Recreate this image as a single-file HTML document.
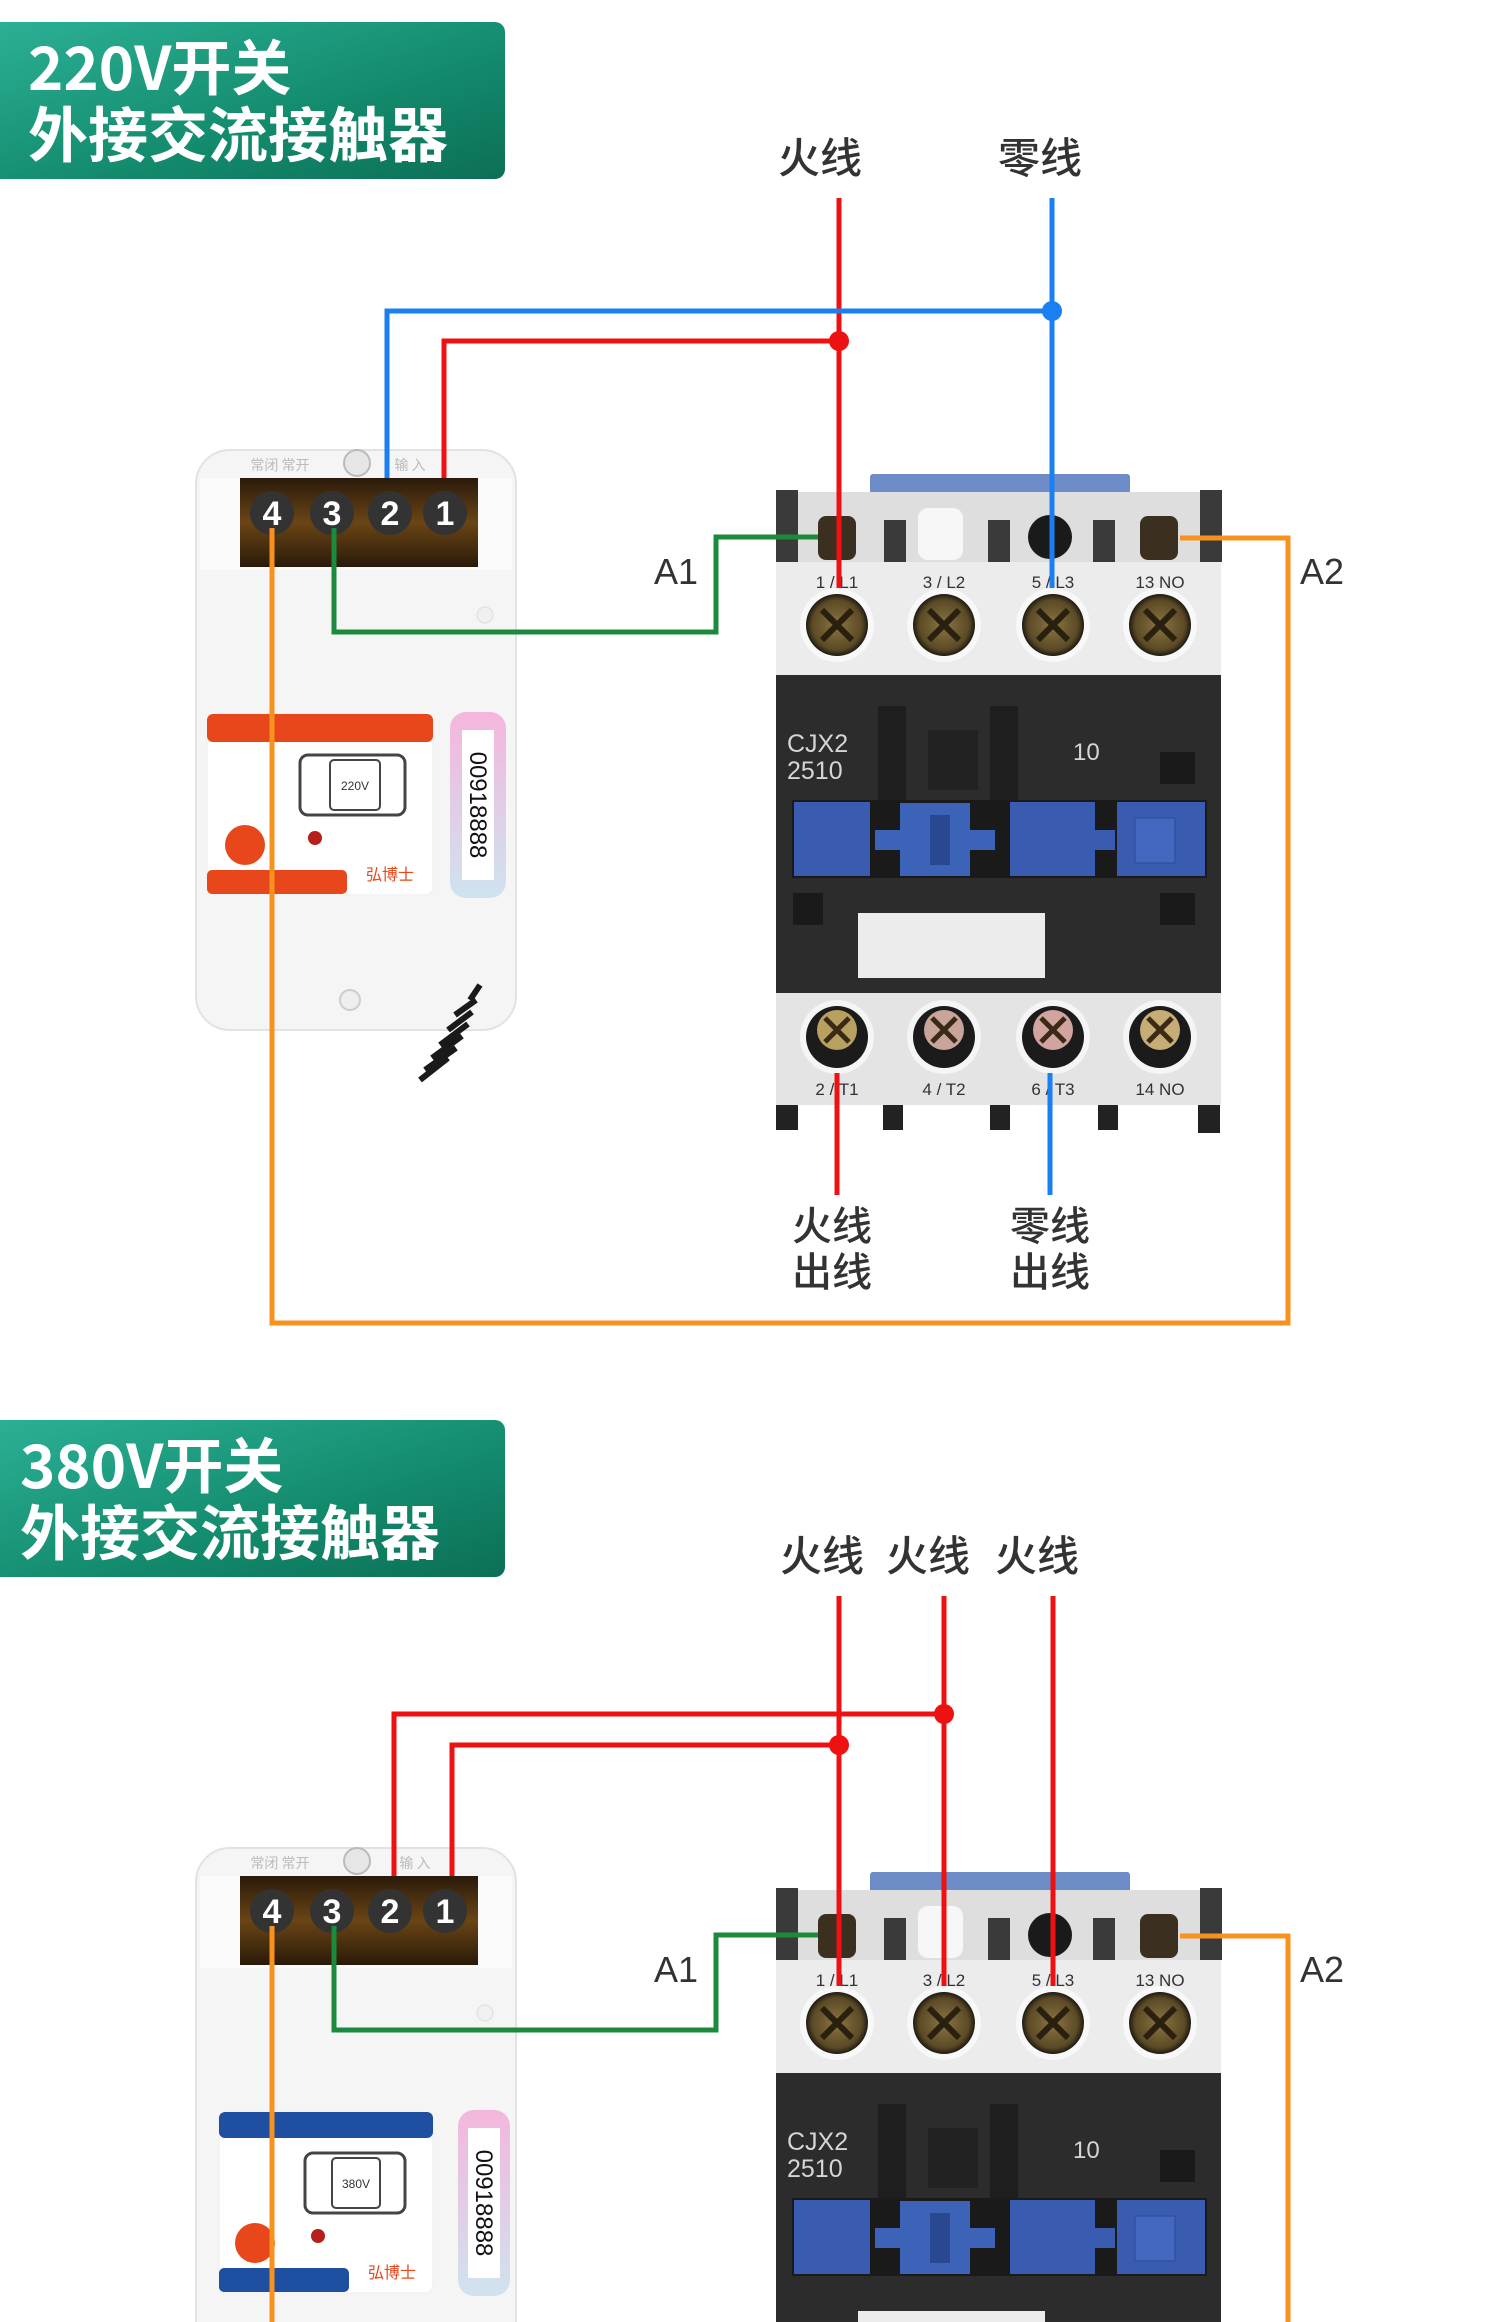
<!DOCTYPE html>
<html><head><meta charset="utf-8"><style>
html,body{margin:0;padding:0;background:#fff;}
svg{display:block;}
text{font-family:"Liberation Sans","Noto Sans CJK SC",sans-serif;}
.cj{font-family:"Noto Sans CJK SC","WenQuanYi Zen Hei",sans-serif;}
.bn{font-weight:bold;}
.lb{font-weight:500;}
</style></head><body>
<svg width="1500" height="2322" viewBox="0 0 1500 2322" xmlns="http://www.w3.org/2000/svg">
<defs>
<linearGradient id="bn" x1="0" y1="0" x2="1" y2="1">
<stop offset="0" stop-color="#2bb095"/><stop offset="0.6" stop-color="#138a6c"/><stop offset="1" stop-color="#0c6f56"/></linearGradient>
<radialGradient id="sc" cx="0.5" cy="0.5" r="0.5"><stop offset="0" stop-color="#8a7440"/><stop offset="0.8" stop-color="#5b4a26"/><stop offset="1" stop-color="#1e1a12"/></radialGradient>
<linearGradient id="tb" x1="0" y1="0" x2="0" y2="1"><stop offset="0" stop-color="#2a1a0a"/><stop offset="0.5" stop-color="#6a4515"/><stop offset="1" stop-color="#2a1a0a"/></linearGradient>
<linearGradient id="pk" x1="0" y1="0" x2="0" y2="1"><stop offset="0" stop-color="#f4b6dc"/><stop offset="1" stop-color="#cfe3ef"/></linearGradient>
</defs>

<!-- ============ SECTION 1 ============ -->
<g>
<path d="M0 22 H495 a10 10 0 0 1 10 10 V169 a10 10 0 0 1 -10 10 H0 Z" fill="url(#bn)"/>
<text class="cj bn" x="28" y="90" font-size="60" fill="#fff">220V开关</text>
<text class="cj bn" x="28" y="157" font-size="60" fill="#fff">外接交流接触器</text>

<text class="cj lb" x="820" y="173" font-size="42" fill="#333" text-anchor="middle">火线</text>
<text class="cj lb" x="1040" y="173" font-size="42" fill="#333" text-anchor="middle">零线</text>

<rect x="196" y="450" width="320" height="580" rx="34" fill="#f5f5f6" stroke="#e2e2e4" stroke-width="2"/>
<rect x="200" y="478" width="312" height="92" fill="#fafafa"/>
<circle cx="357" cy="463" r="13" fill="#e6e6e6" stroke="#bbb" stroke-width="2"/>
<text class="cj" x="280" y="470" font-size="14" fill="#bbb" text-anchor="middle">常闭 常开</text>
<text class="cj" x="410" y="470" font-size="14" fill="#bbb" text-anchor="middle">输 入</text>
<rect x="240" y="478" width="238" height="89" fill="url(#tb)"/>
<g fill="#333"><circle cx="272" cy="513" r="22"/><circle cx="332" cy="513" r="22"/><circle cx="390" cy="513" r="22"/><circle cx="445" cy="513" r="22"/></g>
<g font-size="34" font-weight="bold" fill="#fff" text-anchor="middle"><text x="272" y="525">4</text><text x="332" y="525">3</text><text x="390" y="525">2</text><text x="445" y="525">1</text></g>
<circle cx="485" cy="615" r="8" fill="#f0f0f0" stroke="#ddd"/>
<rect x="207" y="714" width="226" height="181" rx="8" fill="#fff" stroke="#eee"/>
<rect x="207" y="714" width="226" height="28" rx="6" fill="#e8471c"/>
<rect x="207" y="870" width="140" height="24" rx="5" fill="#e8471c"/>
<rect x="300" y="755" width="105" height="60" rx="8" fill="none" stroke="#444" stroke-width="3"/>
<rect x="330" y="760" width="50" height="50" rx="4" fill="none" stroke="#444" stroke-width="2"/>
<text x="355" y="790" font-size="12" fill="#333" text-anchor="middle">220V</text>
<circle cx="245" cy="845" r="20" fill="#e8471c"/>
<circle cx="315" cy="838" r="7" fill="#b5201a"/>
<text class="cj" x="390" y="880" font-size="16" fill="#e8471c" text-anchor="middle">弘博士</text>
<rect x="450" y="712" width="56" height="186" rx="16" fill="url(#pk)"/>
<rect x="462" y="730" width="32" height="150" fill="#fff"/>
<text x="478" y="805" font-size="24" fill="#111" text-anchor="middle" transform="rotate(90 478 805)" dy="8">00918888</text>
<circle cx="350" cy="1000" r="10" fill="#eee" stroke="#ccc" stroke-width="2"/>
<g stroke="#1a1a1a" stroke-width="6" fill="none">
<path d="M480 985 L470 1000 M476 1000 L455 1015 M472 1012 L448 1030 M468 1024 L440 1045 M462 1036 L432 1058 M456 1048 L425 1070 M448 1058 L420 1080"/>
</g>

<rect x="870" y="474" width="260" height="24" rx="3" fill="#6d8cc8"/>
<rect x="776" y="492" width="445" height="185" fill="#ececec"/>
<rect x="776" y="492" width="445" height="70" fill="#dedede"/>
<rect x="776" y="490" width="22" height="72" fill="#3a3a3a"/>
<rect x="1200" y="490" width="22" height="72" fill="#3a3a3a"/>
<rect x="818" y="516" width="38" height="44" rx="8" fill="#3b3020"/>
<rect x="884" y="520" width="22" height="42" fill="#3a3a3a"/>
<rect x="918" y="508" width="45" height="52" rx="10" fill="#f7f7f7"/>
<rect x="988" y="520" width="22" height="42" fill="#3a3a3a"/>
<circle cx="1050" cy="537" r="22" fill="#1a1a1a"/>
<rect x="1093" y="520" width="22" height="42" fill="#3a3a3a"/>
<rect x="1140" y="516" width="38" height="44" rx="8" fill="#3b3020"/>
<g font-size="17" fill="#333" text-anchor="middle"><text x="837" y="588">1 / L1</text><text x="944" y="588">3 / L2</text><text x="1053" y="588">5 / L3</text><text x="1160" y="588">13 NO</text></g>
<g><circle cx="837" cy="625" r="37" fill="#f8f8f8"/><circle cx="944" cy="625" r="37" fill="#f8f8f8"/><circle cx="1053" cy="625" r="37" fill="#f8f8f8"/><circle cx="1160" cy="625" r="37" fill="#f8f8f8"/>
<circle cx="837" cy="625" r="31" fill="url(#sc)"/><circle cx="944" cy="625" r="31" fill="url(#sc)"/><circle cx="1053" cy="625" r="31" fill="url(#sc)"/><circle cx="1160" cy="625" r="31" fill="url(#sc)"/></g>
<g stroke="#2a2010" stroke-width="6"><path d="M822 610 L852 640 M852 610 L822 640 M929 610 L959 640 M959 610 L929 640 M1038 610 L1068 640 M1068 610 L1038 640 M1145 610 L1175 640 M1175 610 L1145 640"/></g>
<rect x="776" y="675" width="445" height="318" fill="#2c2c2c"/>
<rect x="878" y="706" width="28" height="94" fill="#1e1e1e"/>
<rect x="990" y="706" width="28" height="94" fill="#1e1e1e"/>
<rect x="928" y="730" width="50" height="60" fill="#222"/>
<text x="787" y="752" font-size="25" fill="#d5d5d5">CJX2</text>
<text x="787" y="779" font-size="25" fill="#d5d5d5">2510</text>
<text x="1073" y="760" font-size="24" fill="#d5d5d5">10</text>
<rect x="1160" y="752" width="35" height="32" fill="#1a1a1a"/>
<rect x="792" y="800" width="415" height="78" fill="#1a1a1a"/>
<rect x="794" y="802" width="76" height="74" fill="#3a5cb0"/>
<rect x="900" y="803" width="70" height="73" fill="#3d63b8"/>
<rect x="875" y="830" width="120" height="20" fill="#3d63b8"/>
<rect x="930" y="815" width="20" height="50" fill="#2a4890"/>
<rect x="1010" y="802" width="85" height="74" fill="#3a5cb0"/>
<rect x="1095" y="830" width="20" height="20" fill="#3a5cb0"/>
<rect x="1117" y="802" width="88" height="74" fill="#3a5cb0"/>
<rect x="1135" y="818" width="40" height="45" fill="#4468bf" stroke="#2c4a96"/>
<rect x="793" y="893" width="30" height="32" fill="#1a1a1a"/>
<rect x="1160" y="893" width="35" height="32" fill="#1a1a1a"/>
<rect x="858" y="913" width="187" height="65" fill="#ececec"/>
<rect x="776" y="993" width="445" height="112" fill="#e4e4e4"/>
<g><circle cx="837" cy="1037" r="37" fill="#f5f5f5"/><circle cx="944" cy="1037" r="37" fill="#f5f5f5"/><circle cx="1053" cy="1037" r="37" fill="#f5f5f5"/><circle cx="1160" cy="1037" r="37" fill="#f5f5f5"/>
<circle cx="837" cy="1037" r="31" fill="#1b1b1b"/><circle cx="944" cy="1037" r="31" fill="#1b1b1b"/><circle cx="1053" cy="1037" r="31" fill="#1b1b1b"/><circle cx="1160" cy="1037" r="31" fill="#1b1b1b"/>
<circle cx="837" cy="1030" r="20" fill="#b8a060"/><circle cx="944" cy="1030" r="20" fill="#c9a49a"/><circle cx="1053" cy="1030" r="20" fill="#d2a4a0"/><circle cx="1160" cy="1030" r="20" fill="#c6ad75"/></g>
<g stroke="#3a2a15" stroke-width="5"><path d="M825 1018 L849 1042 M849 1018 L825 1042 M932 1018 L956 1042 M956 1018 L932 1042 M1041 1018 L1065 1042 M1065 1018 L1041 1042 M1148 1018 L1172 1042 M1172 1018 L1148 1042"/></g>
<g font-size="17" fill="#333" text-anchor="middle"><text x="837" y="1095">2 / T1</text><text x="944" y="1095">4 / T2</text><text x="1053" y="1095">6 / T3</text><text x="1160" y="1095">14 NO</text></g>
<g fill="#222"><rect x="776" y="1105" width="22" height="25"/><rect x="883" y="1105" width="20" height="25"/><rect x="990" y="1105" width="20" height="25"/><rect x="1098" y="1105" width="20" height="25"/><rect x="1198" y="1105" width="22" height="28"/></g>

<g fill="none" stroke-width="5" stroke-linejoin="miter">
<path d="M839 198 V588" stroke="#ee1111"/>
<path d="M1052 198 V588" stroke="#1a7ff0"/>
<path d="M387 478 V311 H1052" stroke="#1a7ff0"/>
<path d="M444 478 V341 H839" stroke="#ee1111"/>
<path d="M334 528 V632 H716 V537 H818" stroke="#1b8a3c"/>
<path d="M272 528 V1323 H1288 V538 H1180" stroke="#f7921e"/>
<path d="M837 1073 V1195" stroke="#ee1111"/>
<path d="M1050 1073 V1195" stroke="#1a7ff0"/>
</g>
<circle cx="1052" cy="311" r="10" fill="#1a7ff0"/>
<circle cx="839" cy="341" r="10" fill="#ee1111"/>
<text x="676" y="584" font-size="36" fill="#333" text-anchor="middle">A1</text>
<text x="1322" y="584" font-size="36" fill="#333" text-anchor="middle">A2</text>
<text class="cj lb" x="832" y="1240" font-size="40" fill="#333" text-anchor="middle">火线</text>
<text class="cj lb" x="832" y="1286" font-size="40" fill="#333" text-anchor="middle">出线</text>
<text class="cj lb" x="1050" y="1240" font-size="40" fill="#333" text-anchor="middle">零线</text>
<text class="cj lb" x="1050" y="1286" font-size="40" fill="#333" text-anchor="middle">出线</text>
</g>

<!-- ============ SECTION 2 ============ -->
<g transform="translate(0,1398)">
<path d="M0 22 H495 a10 10 0 0 1 10 10 V169 a10 10 0 0 1 -10 10 H0 Z" fill="url(#bn)"/>
<text class="cj bn" x="20" y="90" font-size="60" fill="#fff">380V开关</text>
<text class="cj bn" x="20" y="157" font-size="60" fill="#fff">外接交流接触器</text>

<text class="cj lb" x="822" y="173" font-size="42" fill="#333" text-anchor="middle">火线</text>
<text class="cj lb" x="928" y="173" font-size="42" fill="#333" text-anchor="middle">火线</text>
<text class="cj lb" x="1037" y="173" font-size="42" fill="#333" text-anchor="middle">火线</text>

<rect x="196" y="450" width="320" height="580" rx="34" fill="#f5f5f6" stroke="#e2e2e4" stroke-width="2"/>
<rect x="200" y="478" width="312" height="92" fill="#fafafa"/>
<circle cx="357" cy="463" r="13" fill="#e6e6e6" stroke="#bbb" stroke-width="2"/>
<text class="cj" x="280" y="470" font-size="14" fill="#bbb" text-anchor="middle">常闭 常开</text>
<text class="cj" x="415" y="470" font-size="14" fill="#bbb" text-anchor="middle">输 入</text>
<rect x="240" y="478" width="238" height="89" fill="url(#tb)"/>
<g fill="#333"><circle cx="272" cy="513" r="22"/><circle cx="332" cy="513" r="22"/><circle cx="390" cy="513" r="22"/><circle cx="445" cy="513" r="22"/></g>
<g font-size="34" font-weight="bold" fill="#fff" text-anchor="middle"><text x="272" y="525">4</text><text x="332" y="525">3</text><text x="390" y="525">2</text><text x="445" y="525">1</text></g>
<circle cx="485" cy="615" r="8" fill="#f0f0f0" stroke="#ddd"/>
<rect x="219" y="714" width="214" height="181" rx="8" fill="#fff" stroke="#eee"/>
<rect x="219" y="714" width="214" height="26" rx="6" fill="#1f4fa0"/>
<rect x="219" y="870" width="130" height="24" rx="5" fill="#1f4fa0"/>
<rect x="305" y="755" width="100" height="60" rx="8" fill="none" stroke="#444" stroke-width="3"/>
<rect x="332" y="760" width="48" height="50" rx="4" fill="none" stroke="#444" stroke-width="2"/>
<text x="356" y="790" font-size="12" fill="#333" text-anchor="middle">380V</text>
<circle cx="255" cy="845" r="20" fill="#e8471c"/>
<circle cx="318" cy="838" r="7" fill="#b5201a"/>
<text class="cj" x="392" y="880" font-size="16" fill="#e8471c" text-anchor="middle">弘博士</text>
<rect x="458" y="712" width="52" height="186" rx="16" fill="url(#pk)"/>
<rect x="468" y="730" width="32" height="150" fill="#fff"/>
<text x="484" y="805" font-size="24" fill="#111" text-anchor="middle" transform="rotate(90 484 805)" dy="8">00918888</text>

<rect x="870" y="474" width="260" height="24" rx="3" fill="#6d8cc8"/>
<rect x="776" y="492" width="445" height="185" fill="#ececec"/>
<rect x="776" y="492" width="445" height="70" fill="#dedede"/>
<rect x="776" y="490" width="22" height="72" fill="#3a3a3a"/>
<rect x="1200" y="490" width="22" height="72" fill="#3a3a3a"/>
<rect x="818" y="516" width="38" height="44" rx="8" fill="#3b3020"/>
<rect x="884" y="520" width="22" height="42" fill="#3a3a3a"/>
<rect x="918" y="508" width="45" height="52" rx="10" fill="#f7f7f7"/>
<rect x="988" y="520" width="22" height="42" fill="#3a3a3a"/>
<circle cx="1050" cy="537" r="22" fill="#1a1a1a"/>
<rect x="1093" y="520" width="22" height="42" fill="#3a3a3a"/>
<rect x="1140" y="516" width="38" height="44" rx="8" fill="#3b3020"/>
<g font-size="17" fill="#333" text-anchor="middle"><text x="837" y="588">1 / L1</text><text x="944" y="588">3 / L2</text><text x="1053" y="588">5 / L3</text><text x="1160" y="588">13 NO</text></g>
<g><circle cx="837" cy="625" r="37" fill="#f8f8f8"/><circle cx="944" cy="625" r="37" fill="#f8f8f8"/><circle cx="1053" cy="625" r="37" fill="#f8f8f8"/><circle cx="1160" cy="625" r="37" fill="#f8f8f8"/>
<circle cx="837" cy="625" r="31" fill="url(#sc)"/><circle cx="944" cy="625" r="31" fill="url(#sc)"/><circle cx="1053" cy="625" r="31" fill="url(#sc)"/><circle cx="1160" cy="625" r="31" fill="url(#sc)"/></g>
<g stroke="#2a2010" stroke-width="6"><path d="M822 610 L852 640 M852 610 L822 640 M929 610 L959 640 M959 610 L929 640 M1038 610 L1068 640 M1068 610 L1038 640 M1145 610 L1175 640 M1175 610 L1145 640"/></g>
<rect x="776" y="675" width="445" height="260" fill="#2c2c2c"/>
<rect x="878" y="706" width="28" height="94" fill="#1e1e1e"/>
<rect x="990" y="706" width="28" height="94" fill="#1e1e1e"/>
<rect x="928" y="730" width="50" height="60" fill="#222"/>
<text x="787" y="752" font-size="25" fill="#d5d5d5">CJX2</text>
<text x="787" y="779" font-size="25" fill="#d5d5d5">2510</text>
<text x="1073" y="760" font-size="24" fill="#d5d5d5">10</text>
<rect x="1160" y="752" width="35" height="32" fill="#1a1a1a"/>
<rect x="792" y="800" width="415" height="78" fill="#1a1a1a"/>
<rect x="794" y="802" width="76" height="74" fill="#3a5cb0"/>
<rect x="900" y="803" width="70" height="73" fill="#3d63b8"/>
<rect x="875" y="830" width="120" height="20" fill="#3d63b8"/>
<rect x="930" y="815" width="20" height="50" fill="#2a4890"/>
<rect x="1010" y="802" width="85" height="74" fill="#3a5cb0"/>
<rect x="1095" y="830" width="20" height="20" fill="#3a5cb0"/>
<rect x="1117" y="802" width="88" height="74" fill="#3a5cb0"/>
<rect x="1135" y="818" width="40" height="45" fill="#4468bf" stroke="#2c4a96"/>
<rect x="858" y="913" width="187" height="22" fill="#ececec"/>

<g fill="none" stroke-width="5">
<path d="M839 198 V588" stroke="#ee1111"/>
<path d="M944 198 V588" stroke="#ee1111"/>
<path d="M1053 198 V588" stroke="#ee1111"/>
<path d="M394 478 V316 H944" stroke="#ee1111"/>
<path d="M452 478 V347 H839" stroke="#ee1111"/>
<path d="M334 528 V632 H716 V537 H818" stroke="#1b8a3c"/>
<path d="M272 528 V930" stroke="#f7921e"/>
<path d="M1288 930 V538 H1180" stroke="#f7921e"/>
</g>
<circle cx="944" cy="316" r="10" fill="#ee1111"/>
<circle cx="839" cy="347" r="10" fill="#ee1111"/>
<text x="676" y="584" font-size="36" fill="#333" text-anchor="middle">A1</text>
<text x="1322" y="584" font-size="36" fill="#333" text-anchor="middle">A2</text>
</g>
</svg>
</body></html>
